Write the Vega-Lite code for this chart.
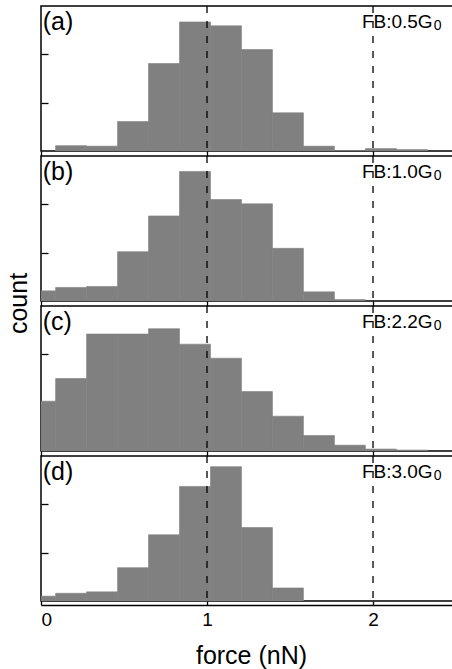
{
  "$schema": "https://vega.github.io/schema/vega-lite/v6.json",
  "background": "white",
  "padding": {"left": 5, "top": 4, "right": 0, "bottom": 0},
  "spacing": 5,
  "align": "each",
  "bounds": "flush",
  "config": {
    "view": {"stroke": "black", "strokeWidth": 1.5},
    "axis": {"grid": false}
  },
  "datasets": {
    "hist": [
      {"p": "a", "x0": 0.088, "x1": 0.2746, "c": 11},
      {"p": "a", "x0": 0.2746, "x1": 0.4612, "c": 10},
      {"p": "a", "x0": 0.4612, "x1": 0.6478, "c": 61},
      {"p": "a", "x0": 0.6478, "x1": 0.8344, "c": 181},
      {"p": "a", "x0": 0.8344, "x1": 1.021, "c": 267},
      {"p": "a", "x0": 1.021, "x1": 1.2076, "c": 259},
      {"p": "a", "x0": 1.2076, "x1": 1.3942, "c": 210},
      {"p": "a", "x0": 1.3942, "x1": 1.5808, "c": 79},
      {"p": "a", "x0": 1.5808, "x1": 1.7674, "c": 10},
      {"p": "a", "x0": 1.7674, "x1": 1.954, "c": 1},
      {"p": "a", "x0": 1.954, "x1": 2.1406, "c": 5},
      {"p": "a", "x0": 2.1406, "x1": 2.3272, "c": 3},
      {"p": "b", "x0": -0.0986, "x1": 0.088, "c": 21},
      {"p": "b", "x0": 0.088, "x1": 0.2746, "c": 28},
      {"p": "b", "x0": 0.2746, "x1": 0.4612, "c": 30},
      {"p": "b", "x0": 0.4612, "x1": 0.6478, "c": 102},
      {"p": "b", "x0": 0.6478, "x1": 0.8344, "c": 176},
      {"p": "b", "x0": 0.8344, "x1": 1.021, "c": 268},
      {"p": "b", "x0": 1.021, "x1": 1.2076, "c": 210},
      {"p": "b", "x0": 1.2076, "x1": 1.3942, "c": 201},
      {"p": "b", "x0": 1.3942, "x1": 1.5808, "c": 109},
      {"p": "b", "x0": 1.5808, "x1": 1.7674, "c": 19},
      {"p": "b", "x0": 1.7674, "x1": 1.954, "c": 3},
      {"p": "c", "x0": -0.0986, "x1": 0.088, "c": 103},
      {"p": "c", "x0": 0.088, "x1": 0.2746, "c": 150},
      {"p": "c", "x0": 0.2746, "x1": 0.4612, "c": 242},
      {"p": "c", "x0": 0.4612, "x1": 0.6478, "c": 242},
      {"p": "c", "x0": 0.6478, "x1": 0.8344, "c": 253},
      {"p": "c", "x0": 0.8344, "x1": 1.021, "c": 221},
      {"p": "c", "x0": 1.021, "x1": 1.2076, "c": 192},
      {"p": "c", "x0": 1.2076, "x1": 1.3942, "c": 123},
      {"p": "c", "x0": 1.3942, "x1": 1.5808, "c": 72},
      {"p": "c", "x0": 1.5808, "x1": 1.7674, "c": 32},
      {"p": "c", "x0": 1.7674, "x1": 1.954, "c": 12},
      {"p": "c", "x0": 1.954, "x1": 2.1406, "c": 4},
      {"p": "c", "x0": 2.1406, "x1": 2.3272, "c": 2},
      {"p": "d", "x0": -0.0986, "x1": 0.088, "c": 10},
      {"p": "d", "x0": 0.088, "x1": 0.2746, "c": 16},
      {"p": "d", "x0": 0.2746, "x1": 0.4612, "c": 19},
      {"p": "d", "x0": 0.4612, "x1": 0.6478, "c": 69},
      {"p": "d", "x0": 0.6478, "x1": 0.8344, "c": 137},
      {"p": "d", "x0": 0.8344, "x1": 1.021, "c": 237},
      {"p": "d", "x0": 1.021, "x1": 1.2076, "c": 278},
      {"p": "d", "x0": 1.2076, "x1": 1.3942, "c": 152},
      {"p": "d", "x0": 1.3942, "x1": 1.5808, "c": 27}
    ],
    "ref": [{"f": 1}, {"f": 2}],
    "labels": [
      {"p": "a", "tag": "(a)", "fb": "FB:0.5G", "sub": "0"},
      {"p": "b", "tag": "(b)", "fb": "FB:1.0G", "sub": "0"},
      {"p": "c", "tag": "(c)", "fb": "FB:2.2G", "sub": "0"},
      {"p": "d", "tag": "(d)", "fb": "FB:3.0G", "sub": "0"}
    ]
  },
  "vconcat": [
    {
      "width": 420, "height": 145,
      "layer": [
        {"data": {"name": "hist"}, "transform": [{"filter": "datum.p == 'a'"}],
         "mark": {"type": "rect", "color": "#808080", "stroke": "#808080", "strokeWidth": 0.6, "clip": true},
         "encoding": {
           "x": {"field": "x0", "type": "quantitative", "scale": {"domain": [0, 2.53], "nice": false, "zero": false},
                 "axis": {"values": [0, 1, 2], "labels": false, "domain": false, "tickSize": 5, "tickColor": "black", "tickWidth": 1.3, "title": null}},
           "x2": {"field": "x1"},
           "y": {"field": "c", "type": "quantitative", "scale": {"domain": [0, 300], "nice": false},
                 "axis": {"values": [100, 200], "labels": false, "domain": false, "tickSize": -7, "tickColor": "black", "tickWidth": 1.3, "title": null}},
           "y2": {"datum": 0}
         }},
        {"data": {"name": "ref"}, "mark": {"type": "rule", "color": "black", "strokeWidth": 1.3, "strokeDash": [7, 8]},
         "encoding": {"x": {"field": "f", "type": "quantitative"}}},
        {"data": {"name": "labels"}, "transform": [{"filter": "datum.p == 'a'"}],
         "mark": {"type": "text", "align": "left", "baseline": "alphabetic", "fontSize": 25, "font": "Liberation Sans", "color": "black"},
         "encoding": {"x": {"datum": 0.01}, "y": {"datum": 251}, "text": {"field": "tag"}}},
        {"data": {"name": "labels"}, "transform": [{"filter": "datum.p == 'a'"}],
         "mark": {"type": "text", "align": "left", "baseline": "alphabetic", "fontSize": 19, "font": "Liberation Sans", "color": "black"},
         "encoding": {"x": {"datum": 1.933}, "y": {"datum": 255}, "text": {"field": "fb"}}},
        {"data": {"name": "labels"}, "transform": [{"filter": "datum.p == 'a'"}],
         "mark": {"type": "text", "align": "left", "baseline": "alphabetic", "fontSize": 14, "font": "Liberation Sans", "color": "black"},
         "encoding": {"x": {"datum": 2.366}, "y": {"datum": 250}, "text": {"field": "sub"}}}
      ]
    },
    {
      "width": 420, "height": 145,
      "layer": [
        {"data": {"name": "hist"}, "transform": [{"filter": "datum.p == 'b'"}],
         "mark": {"type": "rect", "color": "#808080", "stroke": "#808080", "strokeWidth": 0.6, "clip": true},
         "encoding": {
           "x": {"field": "x0", "type": "quantitative", "scale": {"domain": [0, 2.53], "nice": false, "zero": false},
                 "axis": {"values": [0, 1, 2], "labels": false, "domain": false, "tickSize": 5, "tickColor": "black", "tickWidth": 1.3, "title": null}},
           "x2": {"field": "x1"},
           "y": {"field": "c", "type": "quantitative", "scale": {"domain": [0, 300], "nice": false},
                 "axis": {"values": [100, 200], "labels": false, "domain": false, "tickSize": -7, "tickColor": "black", "tickWidth": 1.3,
                          "title": "count", "titleFontSize": 25, "titleFont": "Liberation Sans", "titleFontWeight": "normal", "titleColor": "black",
                          "titleX": -15, "titleY": 147, "titleAngle": 270, "titleBaseline": "alphabetic"}},
           "y2": {"datum": 0}
         }},
        {"data": {"name": "ref"}, "mark": {"type": "rule", "color": "black", "strokeWidth": 1.3, "strokeDash": [7, 8]},
         "encoding": {"x": {"field": "f", "type": "quantitative"}}},
        {"data": {"name": "labels"}, "transform": [{"filter": "datum.p == 'b'"}],
         "mark": {"type": "text", "align": "left", "baseline": "alphabetic", "fontSize": 25, "font": "Liberation Sans", "color": "black"},
         "encoding": {"x": {"datum": 0.01}, "y": {"datum": 251}, "text": {"field": "tag"}}},
        {"data": {"name": "labels"}, "transform": [{"filter": "datum.p == 'b'"}],
         "mark": {"type": "text", "align": "left", "baseline": "alphabetic", "fontSize": 19, "font": "Liberation Sans", "color": "black"},
         "encoding": {"x": {"datum": 1.933}, "y": {"datum": 255}, "text": {"field": "fb"}}},
        {"data": {"name": "labels"}, "transform": [{"filter": "datum.p == 'b'"}],
         "mark": {"type": "text", "align": "left", "baseline": "alphabetic", "fontSize": 14, "font": "Liberation Sans", "color": "black"},
         "encoding": {"x": {"datum": 2.366}, "y": {"datum": 250}, "text": {"field": "sub"}}}
      ]
    },
    {
      "width": 420, "height": 145,
      "layer": [
        {"data": {"name": "hist"}, "transform": [{"filter": "datum.p == 'c'"}],
         "mark": {"type": "rect", "color": "#808080", "stroke": "#808080", "strokeWidth": 0.6, "clip": true},
         "encoding": {
           "x": {"field": "x0", "type": "quantitative", "scale": {"domain": [0, 2.53], "nice": false, "zero": false},
                 "axis": {"values": [0, 1, 2], "labels": false, "domain": false, "tickSize": 5, "tickColor": "black", "tickWidth": 1.3, "title": null}},
           "x2": {"field": "x1"},
           "y": {"field": "c", "type": "quantitative", "scale": {"domain": [0, 300], "nice": false},
                 "axis": {"values": [100, 200], "labels": false, "domain": false, "tickSize": -7, "tickColor": "black", "tickWidth": 1.3, "title": null}},
           "y2": {"datum": 0}
         }},
        {"data": {"name": "ref"}, "mark": {"type": "rule", "color": "black", "strokeWidth": 1.3, "strokeDash": [7, 8]},
         "encoding": {"x": {"field": "f", "type": "quantitative"}}},
        {"data": {"name": "labels"}, "transform": [{"filter": "datum.p == 'c'"}],
         "mark": {"type": "text", "align": "left", "baseline": "alphabetic", "fontSize": 25, "font": "Liberation Sans", "color": "black"},
         "encoding": {"x": {"datum": 0.01}, "y": {"datum": 251}, "text": {"field": "tag"}}},
        {"data": {"name": "labels"}, "transform": [{"filter": "datum.p == 'c'"}],
         "mark": {"type": "text", "align": "left", "baseline": "alphabetic", "fontSize": 19, "font": "Liberation Sans", "color": "black"},
         "encoding": {"x": {"datum": 1.933}, "y": {"datum": 255}, "text": {"field": "fb"}}},
        {"data": {"name": "labels"}, "transform": [{"filter": "datum.p == 'c'"}],
         "mark": {"type": "text", "align": "left", "baseline": "alphabetic", "fontSize": 14, "font": "Liberation Sans", "color": "black"},
         "encoding": {"x": {"datum": 2.366}, "y": {"datum": 250}, "text": {"field": "sub"}}}
      ]
    },
    {
      "width": 420, "height": 145,
      "layer": [
        {"data": {"name": "hist"}, "transform": [{"filter": "datum.p == 'd'"}],
         "mark": {"type": "rect", "color": "#808080", "stroke": "#808080", "strokeWidth": 0.6, "clip": true},
         "encoding": {
           "x": {"field": "x0", "type": "quantitative", "scale": {"domain": [0, 2.53], "nice": false, "zero": false},
                 "axis": {"values": [0, 1, 2], "format": "d", "offset": 4, "domain": true, "domainColor": "black", "domainWidth": 1.5,
                          "tickSize": -4, "tickColor": "black", "tickWidth": 1.3,
                          "labelFontSize": 19, "labelFont": "Liberation Sans", "labelColor": "black", "labelPadding": 9,
                          "title": "force (nN)", "titleFontSize": 25, "titleFont": "Liberation Sans", "titleFontWeight": "normal", "titleColor": "black", "titlePadding": 14}},
           "x2": {"field": "x1"},
           "y": {"field": "c", "type": "quantitative", "scale": {"domain": [0, 300], "nice": false},
                 "axis": {"values": [100, 200], "labels": false, "domain": false, "tickSize": -7, "tickColor": "black", "tickWidth": 1.3, "title": null}},
           "y2": {"datum": 0}
         }},
        {"data": {"name": "ref"}, "mark": {"type": "rule", "color": "black", "strokeWidth": 1.3, "strokeDash": [7, 8]},
         "encoding": {"x": {"field": "f", "type": "quantitative"}}},
        {"data": {"name": "labels"}, "transform": [{"filter": "datum.p == 'd'"}],
         "mark": {"type": "text", "align": "left", "baseline": "alphabetic", "fontSize": 25, "font": "Liberation Sans", "color": "black"},
         "encoding": {"x": {"datum": 0.01}, "y": {"datum": 251}, "text": {"field": "tag"}}},
        {"data": {"name": "labels"}, "transform": [{"filter": "datum.p == 'd'"}],
         "mark": {"type": "text", "align": "left", "baseline": "alphabetic", "fontSize": 19, "font": "Liberation Sans", "color": "black"},
         "encoding": {"x": {"datum": 1.933}, "y": {"datum": 255}, "text": {"field": "fb"}}},
        {"data": {"name": "labels"}, "transform": [{"filter": "datum.p == 'd'"}],
         "mark": {"type": "text", "align": "left", "baseline": "alphabetic", "fontSize": 14, "font": "Liberation Sans", "color": "black"},
         "encoding": {"x": {"datum": 2.366}, "y": {"datum": 250}, "text": {"field": "sub"}}}
      ]
    }
  ]
}
